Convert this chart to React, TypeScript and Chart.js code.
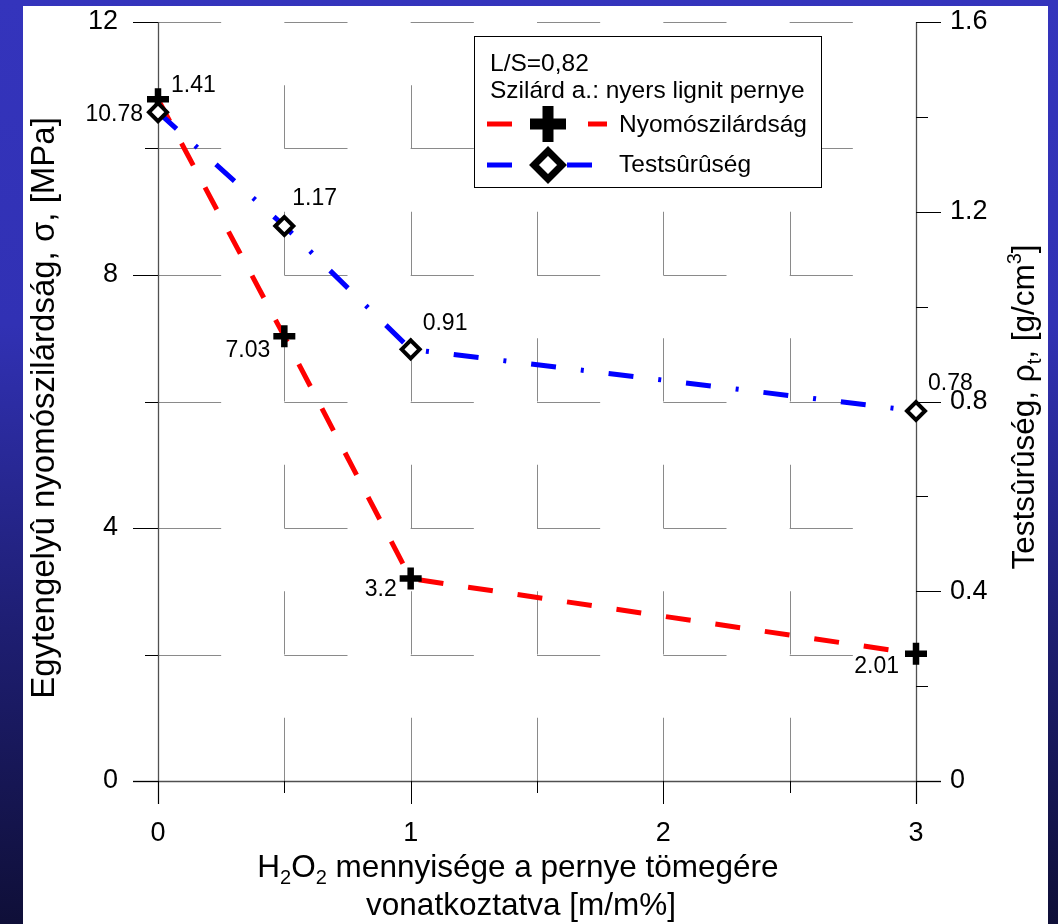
import React, { useEffect, useRef } from 'react';
import { Chart, registerables } from 'chart.js';

Chart.register(...registerables);

// ---------- data ----------
const h2o2Amounts = [0, 0.5, 1, 3];
const strengthMPa = [10.78, 7.03, 3.2, 2.01];
const densityGcm3 = [1.41, 1.17, 0.91, 0.78];
const strengthLabels = ['10.78', '7.03', '3.2', '2.01'];
const densityLabels = ['1.41', '1.17', '0.91', '0.78'];

const xTicks = [0, 1, 2, 3];
const xTickLabels = ['0', '1', '2', '3'];
const xMinorTicks = [0.5, 1.5, 2.5];
const yLeftTicks = [0, 4, 8, 12];
const yLeftTickLabels = ['0', '4', '8', '12'];
const yLeftMinorTicks = [2, 6, 10];
const yRightTicks = [0, 0.4, 0.8, 1.2, 1.6];
const yRightTickLabels = ['0', '0.4', '0.8', '1.2', '1.6'];
const yRightMinorTicks = [0.2, 0.6, 1.0, 1.4];

const gridXLines = [0, 0.5, 1, 1.5, 2, 2.5, 3];
const gridYLines = [0, 2, 4, 6, 8, 10, 12];

const legendNotes = ['L/S=0,82', 'Szilárd a.: nyers lignit pernye'];
const seriesNames = ['Nyomószilárdság', 'Testsûrûség'];

type Part = { t: string; s?: 'sub' | 'sup' };
const xTitleLine1: Part[] = [
  { t: 'H' }, { t: '2', s: 'sub' }, { t: 'O' }, { t: '2', s: 'sub' },
  { t: ' mennyisége a pernye tömegére' },
];
const xTitleLine2: Part[] = [{ t: 'vonatkoztatva [m/m%]' }];
const yLeftTitle: Part[] = [{ t: 'Egytengelyû nyomószilárdság, σ, [MPa]' }];
const yRightTitle: Part[] = [
  { t: 'Testsûrûség, ρ' }, { t: 't', s: 'sub' }, { t: ', [g/cm' }, { t: '3', s: 'sup' }, { t: ']' },
];

// ---------- style ----------
const FONT = '"Liberation Sans", Arial, Helvetica, sans-serif';
const TICK_SIZE = 27;
const LABEL_SIZE = 23;
const TITLE_SIZE = 31.5;
const LEFT_TITLE_SIZE = 33;
const LEGEND_SIZE = 24.5;

// label offsets relative to their points: [dx, dy(center), align]
const strengthLabelOffsets: [number, number, CanvasTextAlign][] = [
  [-15, 15, 'right'], [-14, 14, 'right'], [-14, 11, 'right'], [-17, 13, 'right'],
];
const densityLabelOffsets: [number, number, CanvasTextAlign][] = [
  [13, -26, 'left'], [8, -27, 'left'], [12, -26, 'left'], [12, -27, 'left'],
];

function partFont(p: Part, size: number) {
  const s = p.s ? Math.round(size * 0.65) : size;
  return `${s}px ${FONT}`;
}

function drawRich(ctx: CanvasRenderingContext2D, parts: Part[], cx: number, y: number, size: number) {
  let w = 0;
  for (const p of parts) {
    ctx.font = partFont(p, size);
    w += ctx.measureText(p.t).width;
  }
  let x = cx - w / 2;
  ctx.textAlign = 'left';
  ctx.textBaseline = 'alphabetic';
  for (const p of parts) {
    ctx.font = partFont(p, size);
    const dy = p.s === 'sub' ? size * 0.22 : p.s === 'sup' ? -size * 0.4 : 0;
    ctx.fillText(p.t, x, y + dy);
    x += ctx.measureText(p.t).width;
  }
}

const decorPlugin = {
  id: 'decor',
  beforeDatasetsDraw(chart: any) {
    const { ctx, scales } = chart;
    const sx = scales.x, sy = scales.y, sy2 = scales.y2;
    const L = sx.getPixelForValue(0), R = sx.getPixelForValue(3);
    const T = sy.getPixelForValue(12), B = sy.getPixelForValue(0);
    ctx.save();
    // half-cell L-shaped grid
    ctx.strokeStyle = '#8a8a8a';
    ctx.lineWidth = 1;
    ctx.beginPath();
    for (const yv of gridYLines) {
      if (yv === 0) continue;
      const py = Math.round(sy.getPixelForValue(yv)) + 0.5;
      for (const xv of gridXLines) {
        if (xv === 3) continue;
        ctx.moveTo(sx.getPixelForValue(xv), py);
        ctx.lineTo(sx.getPixelForValue(xv + 0.25), py);
      }
    }
    for (const xv of gridXLines) {
      if (xv === 0 || xv === 3) continue;
      const px = Math.round(sx.getPixelForValue(xv)) + 0.5;
      for (const yv of gridYLines) {
        if (yv === 12) continue;
        ctx.moveTo(px, sy.getPixelForValue(yv));
        ctx.lineTo(px, sy.getPixelForValue(yv + 1));
      }
    }
    ctx.stroke();

    // axis lines
    ctx.strokeStyle = '#505050';
    ctx.lineWidth = 1.3;
    ctx.beginPath();
    const lx = Math.round(L) + 0.5, rx = Math.round(R) + 0.5, by = Math.round(B) + 0.5;
    ctx.moveTo(lx, T); ctx.lineTo(lx, B + 23);
    ctx.moveTo(rx, T); ctx.lineTo(rx, B + 23);
    ctx.moveTo(L - 25, by); ctx.lineTo(R + 25, by);
    ctx.stroke();

    // tick marks
    ctx.strokeStyle = '#000';
    ctx.lineWidth = 1;
    ctx.beginPath();
    for (const v of yLeftTicks) {
      const py = Math.round(sy.getPixelForValue(v)) + 0.5;
      ctx.moveTo(L - 25, py); ctx.lineTo(L, py);
    }
    for (const v of yLeftMinorTicks) {
      const py = Math.round(sy.getPixelForValue(v)) + 0.5;
      ctx.moveTo(L - 13, py); ctx.lineTo(L, py);
    }
    for (const v of yRightTicks) {
      const py = Math.round(sy2.getPixelForValue(v)) + 0.5;
      ctx.moveTo(R, py); ctx.lineTo(R + 25, py);
    }
    for (const v of yRightMinorTicks) {
      const py = Math.round(sy2.getPixelForValue(v)) + 0.5;
      ctx.moveTo(R, py); ctx.lineTo(R + 12, py);
    }
    for (const v of xTicks) {
      const px = Math.round(sx.getPixelForValue(v)) + 0.5;
      ctx.moveTo(px, B); ctx.lineTo(px, B + 23);
    }
    for (const v of xMinorTicks) {
      const px = Math.round(sx.getPixelForValue(v)) + 0.5;
      ctx.moveTo(px, B); ctx.lineTo(px, B + 12);
    }
    ctx.stroke();
    ctx.restore();
  },
  afterDraw(chart: any) {
    const { ctx, scales } = chart;
    const sx = scales.x, sy = scales.y, sy2 = scales.y2;
    ctx.save();
    ctx.fillStyle = '#000';

    // data labels
    ctx.font = `${LABEL_SIZE}px ${FONT}`;
    ctx.textBaseline = 'middle';
    h2o2Amounts.forEach((xv, i) => {
      const [dx, dy, al] = strengthLabelOffsets[i];
      ctx.textAlign = al;
      ctx.fillText(strengthLabels[i], sx.getPixelForValue(xv) + dx, sy.getPixelForValue(strengthMPa[i]) + dy);
      const [dx2, dy2, al2] = densityLabelOffsets[i];
      ctx.textAlign = al2;
      ctx.fillText(densityLabels[i], sx.getPixelForValue(xv) + dx2, sy2.getPixelForValue(densityGcm3[i]) + dy2);
    });

    // axis titles
    drawRich(ctx, xTitleLine1, 518, 877, TITLE_SIZE);
    drawRich(ctx, xTitleLine2, 521, 915, TITLE_SIZE);
    ctx.save();
    ctx.translate(54, 408);
    ctx.rotate(-Math.PI / 2);
    drawRich(ctx, yLeftTitle, 0, 0, LEFT_TITLE_SIZE);
    ctx.restore();
    ctx.save();
    ctx.translate(1034, 407);
    ctx.rotate(-Math.PI / 2);
    drawRich(ctx, yRightTitle, 0, 0, TITLE_SIZE);
    ctx.restore();

    // legend box
    ctx.fillStyle = '#fff';
    ctx.fillRect(474, 36, 347, 151);
    ctx.strokeStyle = '#000';
    ctx.lineWidth = 1;
    ctx.strokeRect(474.5, 36.5, 347, 151);
    ctx.fillStyle = '#000';
    ctx.font = `${LEGEND_SIZE}px ${FONT}`;
    ctx.textAlign = 'left';
    ctx.textBaseline = 'alphabetic';
    ctx.fillText(legendNotes[0], 490, 71);
    ctx.fillText(legendNotes[1], 490, 98);
    ctx.fillText(seriesNames[0], 619, 132);
    ctx.fillText(seriesNames[1], 619, 172);

    // legend row 1: red dashes + plus
    ctx.lineCap = 'butt';
    ctx.strokeStyle = '#ff0000';
    ctx.lineWidth = 5;
    ctx.beginPath();
    ctx.moveTo(487, 124); ctx.lineTo(512, 124);
    ctx.moveTo(588, 124); ctx.lineTo(607, 124);
    ctx.stroke();
    ctx.strokeStyle = '#000';
    ctx.lineWidth = 11;
    ctx.beginPath();
    ctx.moveTo(530, 124); ctx.lineTo(566, 124);
    ctx.moveTo(548, 106); ctx.lineTo(548, 142);
    ctx.stroke();

    // legend row 2: blue dashes + diamond
    ctx.strokeStyle = '#0000ff';
    ctx.lineWidth = 5;
    ctx.beginPath();
    ctx.moveTo(487, 165); ctx.lineTo(512, 165);
    ctx.moveTo(567, 165); ctx.lineTo(592, 165);
    ctx.stroke();
    ctx.beginPath();
    ctx.moveTo(548 - 14, 165); ctx.lineTo(548, 165 - 14);
    ctx.lineTo(548 + 14, 165); ctx.lineTo(548, 165 + 14);
    ctx.closePath();
    ctx.fillStyle = '#fff';
    ctx.fill();
    ctx.strokeStyle = '#000';
    ctx.lineWidth = 7;
    ctx.stroke();

    ctx.restore();
  },
};

function fixVertical(width: number) {
  return (s: any) => {
    s.width = width;
    s.paddingTop = 0;
    s.paddingBottom = 0;
  };
}

export default function App() {
  const ref = useRef<HTMLCanvasElement>(null);

  useEffect(() => {
    const canvas = ref.current;
    if (!canvas) return;
    const tickFont = { family: FONT, size: TICK_SIZE };
    const chart = new Chart(canvas, {
      type: 'line',
      data: {
        datasets: [
          {
            label: seriesNames[0],
            data: h2o2Amounts.map((x, i) => ({ x, y: strengthMPa[i] })),
            yAxisID: 'y',
            borderColor: '#ff0000',
            borderWidth: 5,
            borderDash: [25, 25],
            borderCapStyle: 'butt',
            pointStyle: 'cross',
            pointRadius: 11,
            pointBorderWidth: 6.5,
            pointBorderColor: '#000',
            pointBackgroundColor: '#000',
            fill: false,
            tension: 0,
            clip: false,
            order: 1,
          },
          {
            label: seriesNames[1],
            data: h2o2Amounts.map((x, i) => ({ x, y: densityGcm3[i] })),
            yAxisID: 'y2',
            borderColor: '#0000ff',
            borderWidth: 5,
            borderDash: [25, 25, 3, 25],
            borderCapStyle: 'butt',
            pointStyle: 'rectRot',
            pointRadius: 9,
            pointBorderWidth: 4,
            pointBorderColor: '#000',
            pointBackgroundColor: '#fff',
            fill: false,
            tension: 0,
            clip: false,
            order: 0,
          },
        ],
      } as any,
      options: {
        responsive: false,
        animation: false,
        devicePixelRatio: 1,
        events: [],
        layout: { padding: { top: 22, left: 0, right: 0, bottom: 0 } },
        plugins: {
          legend: { display: false },
          tooltip: { enabled: false },
          title: { display: false },
        },
        scales: {
          x: {
            type: 'linear',
            position: 'bottom',
            min: 0,
            max: 3,
            grid: { display: false, drawTicks: false },
            border: { display: false },
            ticks: {
              font: tickFont,
              color: '#000',
              padding: 36,
              maxRotation: 0,
              autoSkip: false,
              callback: (_v: any, i: number) => xTickLabels[i],
            },
            afterBuildTicks: (s: any) => { s.ticks = xTicks.map((value) => ({ value })); },
            afterFit: (s: any) => { s.height = 143; s.paddingLeft = 0; s.paddingRight = 0; },
          },
          y: {
            type: 'linear',
            position: 'left',
            min: 0,
            max: 12,
            grid: { display: false, drawTicks: false },
            border: { display: false },
            ticks: {
              font: tickFont,
              color: '#000',
              padding: 40,
              autoSkip: false,
              callback: (_v: any, i: number) => yLeftTickLabels[i],
            },
            afterBuildTicks: (s: any) => { s.ticks = yLeftTicks.map((value) => ({ value })); },
            afterFit: fixVertical(158),
          },
          y2: {
            type: 'linear',
            position: 'right',
            min: 0,
            max: 1.6,
            grid: { display: false, drawTicks: false },
            border: { display: false },
            ticks: {
              font: tickFont,
              color: '#000',
              padding: 34,
              autoSkip: false,
              callback: (_v: any, i: number) => yRightTickLabels[i],
            },
            afterBuildTicks: (s: any) => { s.ticks = yRightTicks.map((value) => ({ value })); },
            afterFit: fixVertical(142),
          },
        },
      } as any,
      plugins: [decorPlugin],
    });
    return () => chart.destroy();
  }, []);

  return (
    <div
      style={{
        position: 'fixed',
        left: 0,
        top: 0,
        width: 1058,
        height: 924,
        overflow: 'hidden',
        background: 'linear-gradient(180deg, #3434bc 0%, #3131b4 35%, #1e1e72 68%, #0f0f38 100%)',
      }}
    >
      <div style={{ position: 'absolute', left: 23, top: 6, width: 1025, height: 918, background: '#fff' }} />
      <canvas
        ref={ref}
        width={1058}
        height={924}
        style={{ position: 'absolute', left: 0, top: 0, width: 1058, height: 924, display: 'block' }}
      />
    </div>
  );
}
